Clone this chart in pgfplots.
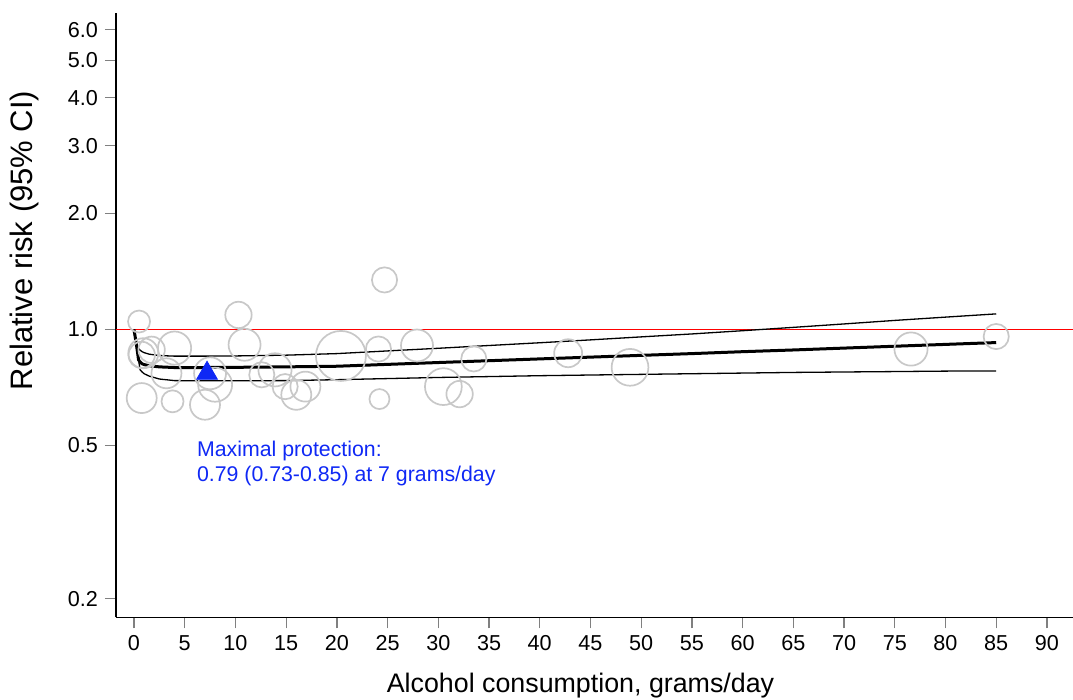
\documentclass[border=0pt]{standalone}
\usepackage{fontspec}
\setmainfont{Liberation Sans}
\usepackage{pgfplots}
\pgfplotsset{compat=1.18}

\definecolor{circgray}{RGB}{200,200,200}
\definecolor{protblue}{RGB}{15,40,245}
\definecolor{refred}{RGB}{255,0,0}

\pgfplotsset{study/.style={only marks, mark=o, mark options={draw=circgray, fill=none, line width=0.85pt}}}

\begin{document}
\begin{tikzpicture}
\begin{axis}[
  name=ax,
  scale only axis,
  width=478.5pt, height=302pt,
  ymode=log,
  xmin=-1.774, xmax=92.57,
  ymin=0.179, ymax=6.616,
  axis x line=bottom, axis y line=left,
  axis line style={-, line width=0.65pt},
  tick align=outside,
  major tick length=5.5pt,
  tick style={line width=0.65pt},
  xtick={0,5,...,90},
  ytick={0.2,0.5,1,2,3,4,5,6},
  yticklabels={0.2,0.5,1.0,2.0,3.0,4.0,5.0,6.0},
  yminorticks=false,
  /pgf/number format/assume math mode=true,
  xticklabel style={font=\fontsize{10.8}{12}\selectfont},
  yticklabel style={font=\fontsize{10.8}{12}\selectfont},
  xlabel={Alcohol consumption, grams/day},
  xlabel style={font=\fontsize{13.4}{16}\selectfont, at={(axis description cs:0.4854,0)}, anchor=base, yshift=-37.75pt},
  ylabel={Relative risk (95\% CI)},
  ylabel style={font=\fontsize{15.5}{18}\selectfont, at={(axis description cs:-0.0961,0.624)}, anchor=center},
]
  % study estimates, grouped by circle size
  \addplot[study, mark size=5.0pt] coordinates {(24.2,0.660)};
  \addplot[study, mark size=5.5pt] coordinates {(0.5,1.049) (3.8,0.651)};
  \addplot[study, mark size=6.3pt] coordinates {(12.6,0.763) (14.9,0.711) (24.1,0.890) (24.7,1.345) (33.5,0.839) (85.0,0.959)};
  \addplot[study, mark size=6.6pt] coordinates {(0.76,0.859) (1.74,0.886) (10.3,1.091) (32.1,0.680)};
  \addplot[study, mark size=7.0pt] coordinates {(42.8,0.868)};
  \addplot[study, mark size=7.5pt] coordinates {(0.92,0.868) (3.2,0.770) (0.76,0.664) (7.0,0.638) (16.0,0.677) (16.9,0.711)};
  \addplot[study, mark size=8.0pt] coordinates {(7.5,0.770) (10.9,0.913) (27.9,0.909)};
  \addplot[study, mark size=8.3pt] coordinates {(4.0,0.895) (13.9,0.786) (76.6,0.890)};
  \addplot[study, mark size=8.5pt] coordinates {(8.0,0.719)};
  \addplot[study, mark size=9.2pt] coordinates {(30.5,0.711) (48.9,0.798)};
  \addplot[study, mark size=12.5pt] coordinates {(20.4,0.854)};
  % reference line
  \addplot[color=refred, line width=0.85pt, mark=none] coordinates {(-1.774,1) (92.57,1)};
  % upper 95% CI
  \addplot[black, line width=0.65pt, mark=none] coordinates {
    (0,1.000) (0.25,0.912) (0.45,0.892) (0.6,0.884) (0.8,0.876) (1.0,0.871) (1.5,0.863)
    (2.5,0.856) (4,0.853) (7,0.853) (10,0.854) (15,0.858) (20,0.866) (25,0.880) (30,0.894)
    (35,0.909) (40,0.924) (45,0.940) (50,0.957) (55,0.974) (60,0.993) (65,1.013) (70,1.034)
    (75,1.056) (80,1.077) (85,1.098)};
  % lower 95% CI
  \addplot[black, line width=0.65pt, mark=none] coordinates {
    (0,1.000) (0.25,0.910) (0.45,0.834) (0.6,0.786) (0.8,0.776) (1.0,0.768) (1.5,0.757)
    (2.5,0.744) (4,0.737) (7,0.736) (10,0.736) (15,0.737) (20,0.741) (25,0.746) (30,0.751)
    (35,0.755) (40,0.759) (45,0.762) (50,0.765) (55,0.768) (60,0.771) (65,0.774) (70,0.776)
    (75,0.778) (80,0.780) (85,0.781)};
  % pooled dose-response
  \addplot[black, line width=1.5pt, mark=none] coordinates {
    (0,1.000) (0.25,0.910) (0.45,0.834) (0.6,0.824) (0.8,0.815) (1.0,0.811) (1.5,0.805)
    (2.5,0.800) (4,0.797) (7,0.797) (10,0.798) (15,0.800) (20,0.803) (25,0.812) (30,0.821)
    (35,0.830) (40,0.839) (45,0.848) (50,0.857) (55,0.866) (60,0.876) (65,0.885) (70,0.895)
    (75,0.905) (80,0.915) (85,0.925)};
  \addplot[only marks, mark=triangle*, mark size=6pt, color=protblue] coordinates {(7.2,0.770)};
  \node[anchor=base west, inner sep=0pt, text=protblue, font=\fontsize{10.65}{12}\selectfont] at (axis cs:6.18,0.4683) {Maximal protection:};
  \node[anchor=base west, inner sep=0pt, text=protblue, font=\fontsize{10.65}{12}\selectfont] at (axis cs:6.18,0.4036) {0.79 (0.73-0.85) at 7 grams/day};
\end{axis}
\pgfresetboundingbox
\path ([shift={(-58pt,-41.25pt)}]ax.south west) rectangle ([shift={(0pt,6.7pt)}]ax.north east);
\end{tikzpicture}
\end{document}
